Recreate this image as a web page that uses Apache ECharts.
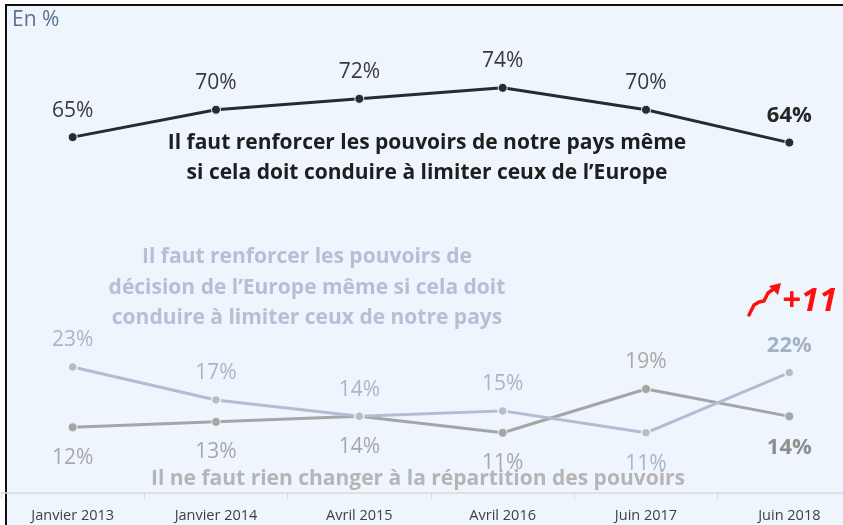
<!DOCTYPE html>
<html>
<head>
<meta charset="utf-8">
<script src="https://cdn.jsdelivr.net/npm/echarts@6/dist/echarts.min.js"></script>
<style>
html,body{margin:0;padding:0;background:#fff;overflow:hidden;}
#frame{position:absolute;left:5px;top:4px;width:845px;height:530px;background:#eef5fc;border-top:2.5px solid #111;border-left:2.5px solid #111;box-sizing:border-box;}
#c{position:absolute;left:0;top:0;width:843px;height:525px;}
</style>
</head>
<body>
<div id="frame"></div>
<div id="c"></div>
<script>
var categories = ['Janvier 2013', 'Janvier 2014', 'Avril 2015', 'Avril 2016', 'Juin 2017', 'Juin 2018'];
var nationValues = [65, 70, 72, 74, 70, 64];
var europeValues = [23, 17, 14, 15, 11, 22];
var unchangedValues = [12, 13, 14, 11, 19, 14];
var europeLabelPos = ['top', 'top', 'top', 'top', 'bottom', 'top'];
var unchangedLabelPos = ['bottom', 'bottom', 'bottom', 'bottom', 'top', 'bottom'];

var FONT = '"Open Sans", sans-serif';

function build(values, positions, color, lastColor) {
  return values.map(function (v, i) {
    var last = i === values.length - 1;
    var pos = positions ? positions[i] : 'top';
    return {
      value: v,
      label: {
        position: pos,
        distance: pos === 'bottom' ? 15 : 11,
        fontWeight: last ? 'bold' : 'normal',
        fontSize: last ? 22 : 21,
        color: last ? lastColor : color
      }
    };
  });
}

var chart = echarts.init(document.getElementById('c'), null, {renderer: 'canvas'});
chart.setOption({
  backgroundColor: 'transparent',
  animation: false,
  grid: {left: 1, width: 860, top: 55, bottom: 32, outerBoundsMode: 'none', containLabel: false},
  xAxis: {
    type: 'category',
    data: categories,
    boundaryGap: true,
    axisLine: {lineStyle: {color: '#d9d9d9', width: 1.5}},
    axisTick: {show: true, length: 6, lineStyle: {color: '#d9d9d9'}},
    axisLabel: {color: '#404040', fontFamily: FONT, fontSize: 14.5, margin: 15}
  },
  yAxis: {type: 'value', min: 0, max: 80, show: false, splitLine: {show: false}},
  graphic: [
    {type: 'text', x: 12, y: 20, style: {text: 'En %', fill: '#5b7190', font: '21px ' + FONT, textVerticalAlign: 'middle'}},
    {type: 'text', x: 427, y: 143, style: {text: 'Il faut renforcer les pouvoirs de notre pays même', fill: '#1e1e1e', font: 'bold 21px ' + FONT, textAlign: 'center', textVerticalAlign: 'middle'}},
    {type: 'text', x: 427, y: 173, style: {text: 'si cela doit conduire à limiter ceux de l\u2019Europe', fill: '#1e1e1e', font: 'bold 21px ' + FONT, textAlign: 'center', textVerticalAlign: 'middle'}},
    {type: 'text', x: 307, y: 257, style: {text: 'Il faut renforcer les pouvoirs de', fill: '#b4c0d4', font: 'bold 21px ' + FONT, textAlign: 'center', textVerticalAlign: 'middle'}},
    {type: 'text', x: 307, y: 288, style: {text: 'décision de l\u2019Europe même si cela doit', fill: '#b4c0d4', font: 'bold 21px ' + FONT, textAlign: 'center', textVerticalAlign: 'middle'}},
    {type: 'text', x: 307, y: 318, style: {text: 'conduire à limiter ceux de notre pays', fill: '#b4c0d4', font: 'bold 21px ' + FONT, textAlign: 'center', textVerticalAlign: 'middle'}},
    {type: 'text', x: 418, y: 479, z: 50, style: {text: 'Il ne faut rien changer à la répartition des pouvoirs', fill: '#b5b5b5', font: 'bold 21px ' + FONT, textAlign: 'center', textVerticalAlign: 'middle'}},
    {type: 'polyline', z: 60, shape: {points: [[749, 315], [754, 305], [759, 302], [764, 301], [768, 293], [775, 288]]}, style: {stroke: '#ff1010', lineWidth: 3.5, fill: 'none', lineCap: 'round', lineJoin: 'round'}},
    {type: 'polygon', z: 60, shape: {points: [[781, 283], [769, 286], [778, 295]]}, style: {fill: '#ff1010'}},
    {type: 'text', x: 782, y: 302, z: 60, style: {text: '+11', fill: '#ff1010', font: 'italic bold 33px ' + FONT, textAlign: 'left', textVerticalAlign: 'middle'}}
  ],
  series: [
    {
      name: 'Nation', type: 'line', data: build(nationValues, null, '#3a3a3a', '#262626'),
      symbol: 'circle', symbolSize: 9,
      lineStyle: {color: '#262b33', width: 3},
      itemStyle: {color: '#262b33', borderColor: '#f0f0f0', borderWidth: 1},
      label: {show: true, formatter: '{c}%', fontFamily: FONT},
      z: 5
    },
    {
      name: 'Europe', type: 'line', data: build(europeValues, europeLabelPos, '#a9b6ca', '#a4b1c6'),
      symbol: 'circle', symbolSize: 9,
      lineStyle: {color: '#b1bdd0', width: 3},
      itemStyle: {color: '#b1bdd0', borderColor: '#f4f4f4', borderWidth: 1.5},
      label: {show: true, formatter: '{c}%', fontFamily: FONT},
      z: 4
    },
    {
      name: 'Inchangé', type: 'line', data: build(unchangedValues, unchangedLabelPos, '#a8a8a8', '#8e8e8e'),
      symbol: 'circle', symbolSize: 9,
      lineStyle: {color: '#a5a5a5', width: 3},
      itemStyle: {color: '#a5a5a5', borderColor: '#f0f0f0', borderWidth: 1},
      label: {show: true, formatter: '{c}%', fontFamily: FONT},
      z: 3
    }
  ]
});
</script>
</body>
</html>
